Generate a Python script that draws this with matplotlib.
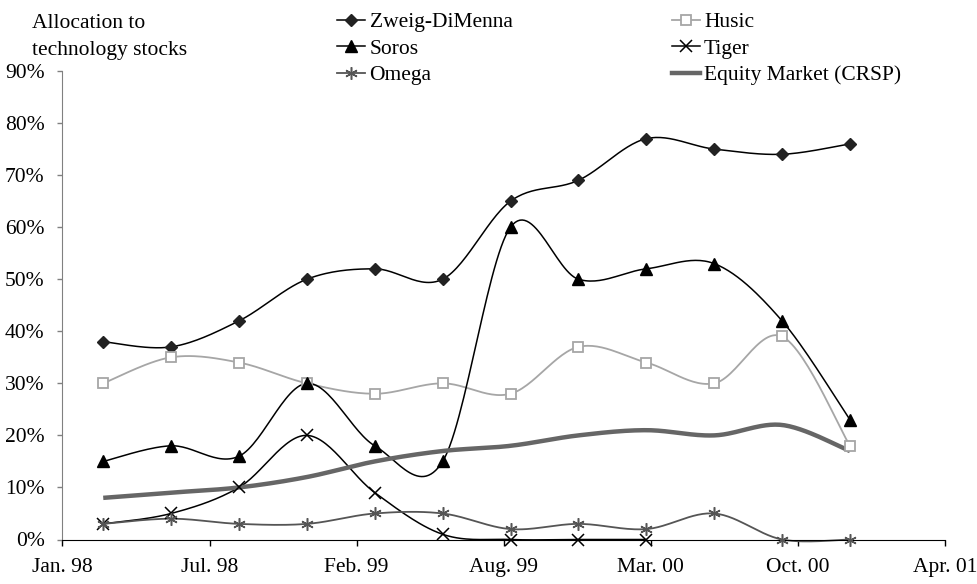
import numpy as np
import matplotlib
matplotlib.use("Agg")
import matplotlib.pyplot as plt
from matplotlib.lines import Line2D

plt.rcParams['font.family'] = ['Liberation Serif', 'DejaVu Serif']
plt.rcParams['font.size'] = 15.5

# tick labels on the date axis (evenly spaced, months since Jan. 98)
tick_labels = ["Jan. 98", "Jul. 98", "Feb. 99", "Aug. 99", "Mar. 00", "Oct. 00", "Apr. 01"]
tick_pos = [0, 6.5, 13, 19.5, 26, 32.5, 39]

# quarterly observations (months since Jan. 98)
quarters = [1.8, 4.8, 7.8, 10.8, 13.8, 16.8, 19.8, 22.8, 25.8, 28.8, 31.8, 34.8]

zweig = [38, 37, 42, 50, 52, 50, 65, 69, 77, 75, 74, 76]
husic = [30, 35, 34, 30, 28, 30, 28, 37, 34, 30, 39, 18]
soros = [15, 18, 16, 30, 18, 15, 60, 50, 52, 53, 42, 23]
tiger = [3, 5, 10, 20, 9, 1, 0, 0, 0]
omega = [3, 4, 3, 3, 5, 5, 2, 3, 2, 5, 0, 0]
crsp = [8, 9, 10, 12, 15, 17, 18, 20, 21, 20, 22, 17]


def smooth(x, y, n=30):
    # excel-like smoothed line (catmull-rom through bezier segments)
    p = np.column_stack([x, y]).astype(float)
    p = np.vstack([p[0], p, p[-1]])
    xs, ys = [], []
    t = np.linspace(0, 1, n)
    for i in range(1, len(p) - 2):
        p0, p1, p2, p3 = p[i - 1], p[i], p[i + 1], p[i + 2]
        c1 = p1 + (p2 - p0) / 6
        c2 = p2 - (p3 - p1) / 6
        b = ((1 - t) ** 3)[:, None] * p1 + (3 * (1 - t) ** 2 * t)[:, None] * c1 \
            + (3 * (1 - t) * t ** 2)[:, None] * c2 + (t ** 3)[:, None] * p2
        xs.extend(b[:, 0])
        ys.extend(b[:, 1])
    return np.array(xs), np.array(ys)


fig = plt.figure(figsize=(9.78, 5.84), dpi=100)
ax = fig.add_axes([62.5 / 978, 44.5 / 584, 882.5 / 978, 468.5 / 584])

series = [
    ("Zweig-DiMenna", zweig, dict(color="black", lw=1.1), dict(marker="D", ms=6, mfc="#222222", mec="#222222")),
    ("Husic", husic, dict(color="#a6a6a6", lw=1.3), dict(marker="s", ms=7, mfc="white", mec="#a6a6a6", mew=1.3)),
    ("Soros", soros, dict(color="black", lw=1.1), dict(marker="^", ms=8, mfc="black", mec="black")),
    ("Tiger", tiger, dict(color="black", lw=1.1), dict(marker="x", ms=8, mec="black", mew=1.1)),
    ("Omega", omega, dict(color="#555555", lw=1.3), dict(marker=(6, 2, 0), ms=9, mec="#555555", mew=1.1)),
]

handles = {}
for name, vals, lstyle, mstyle in series:
    x = quarters[:len(vals)]
    sx, sy = smooth(x, vals)
    ax.plot(sx, sy, **lstyle, zorder=2, clip_on=False)
    ax.plot(x, vals, ls="none", **mstyle, zorder=3, clip_on=False)
    handles[name] = Line2D([], [], **lstyle, **mstyle)

sx, sy = smooth(quarters, crsp)
ax.plot(sx, sy, color="#666666", lw=3.2, zorder=2.5, solid_capstyle="butt")
handles["Equity Market (CRSP)"] = Line2D([], [], color="#666666", lw=3.2)

ax.set_xlim(0, 39)
ax.set_ylim(0, 90)
ax.set_xticks(tick_pos)
ax.set_xticklabels(tick_labels)
ax.set_yticks(range(0, 91, 10))
ax.set_yticklabels([f"{v}%" for v in range(0, 91, 10)])
ax.tick_params(axis="x", direction="out", length=4.5, width=1, pad=9, colors="black")
ax.tick_params(axis="y", direction="out", length=3.8, width=1, pad=9, color="#808080")
for s in ["top", "right"]:
    ax.spines[s].set_visible(False)
ax.spines["left"].set_color("#808080")
ax.spines["bottom"].set_color("black")

fig.text(32 / 978, 1 - 28 / 584, "Allocation to", ha="left", va="baseline", fontsize=15.5)
fig.text(32 / 978, 1 - 55 / 584, "technology stocks", ha="left", va="baseline", fontsize=15.5)

order = ["Zweig-DiMenna", "Soros", "Omega", "Husic", "Tiger", "Equity Market (CRSP)"]
fig.legend([handles[k] for k in order], order, loc="upper left", ncol=2,
           bbox_to_anchor=(333 / 978, 1 - 8 / 584), frameon=False, handlelength=1.3,
           handletextpad=0.2, labelspacing=0.3, columnspacing=7.4, borderpad=0.2,
           borderaxespad=0.0)

fig.savefig("out.png", dpi=100)
